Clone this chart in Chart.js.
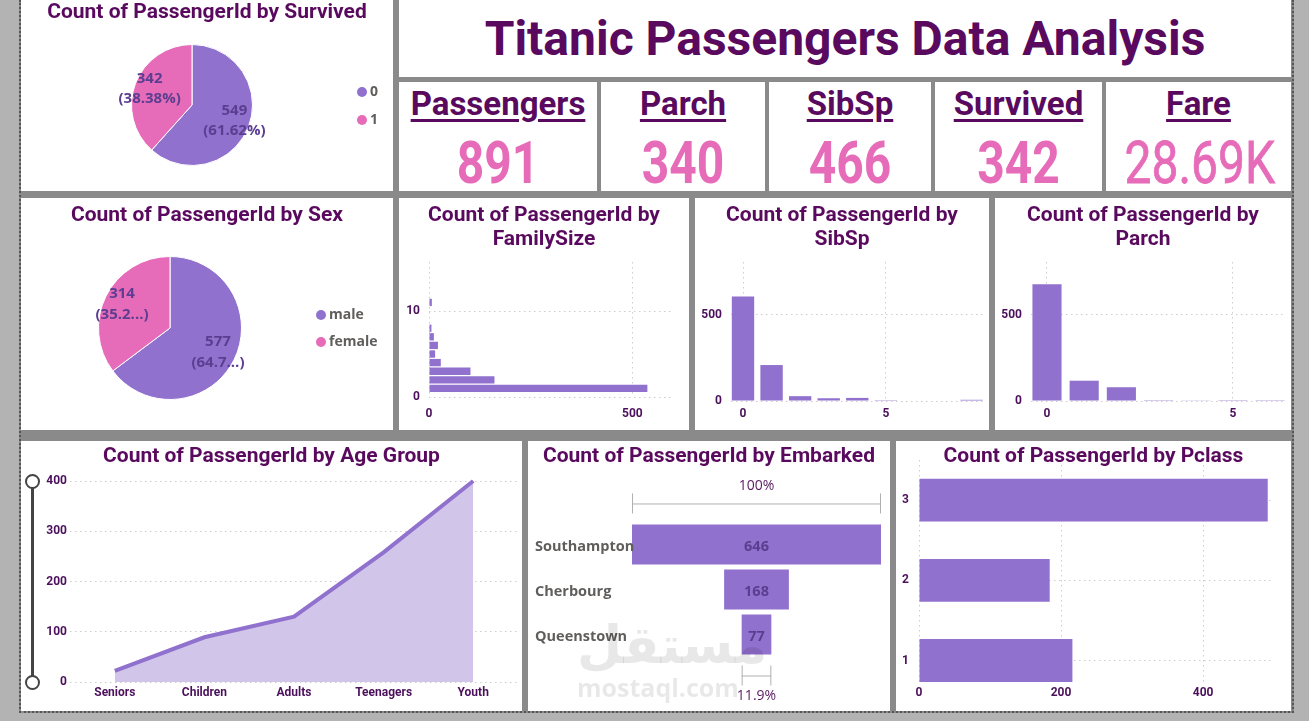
<!DOCTYPE html>
<html>
<head>
<meta charset="utf-8">
<title>Titanic Passengers Data Analysis</title>
<script src="https://cdn.jsdelivr.net/npm/chart.js@4.4.1/dist/chart.umd.min.js"></script>
<style>
  * { box-sizing: border-box; }
  body { margin: 0; width: 1309px; height: 721px; background: #b3b3b3; position: relative; overflow: hidden; font-family: Roboto, sans-serif; }
  #board { position: absolute; left: 19px; top: 0; width: 1275px; height: 713px; background: #8a8a8a;
           border-left: 2px dotted #555; border-right: 2px dotted #555; border-bottom: 2px dotted #555; }
  .panel { position: absolute; background: #fff; overflow: hidden; }
  .panel canvas { position: absolute; left: 0; top: 0; }
  .pt { position: absolute; left: 0; width: 100%; text-align: center; font-weight: 700; font-size: 21px;
        line-height: 24px; color: #5a0a5e; white-space: nowrap; z-index: 2; }
  #title { font-size: 48px; font-weight: 700; color: #5a0a5e; text-align: center; line-height: 77px; }
  .kl { position: absolute; left: 0; width: 100%; top: 2px; text-align: center; font-size: 33px; font-weight: 700;
        color: #5a0a5e; text-decoration: underline; text-decoration-thickness: 3px; text-underline-offset: 4px; }
  .kv { position: absolute; left: 0; width: 100%; top: 46px; text-align: center; font-size: 60px; font-weight: 700;
        color: #e66cb9; transform: scaleX(.8); line-height: 70px; }
  .kv.light { font-weight: 400; -webkit-text-stroke: 0.8px #e66cb9; }
  .slider { position: absolute; left: 10px; top: 40px; width: 3px; height: 201px; background: #444; }
  .knob { position: absolute; left: 4px; width: 15px; height: 15px; border-radius: 50%; border: 2px solid #444; background: #fff; }
  #wm { position: absolute; left: 577px; top: 612px; width: 156px; text-align: center; color: rgba(0,0,0,.09); z-index: 3; }
  #wm .ar { font-family: "DejaVu Sans"; font-weight: 700; font-size: 52px; line-height: 66px; }
  #wm .en { font-family: "Open Sans"; font-weight: 700; font-size: 25px; line-height: 26px; margin-top: -4px; }
</style>
</head>
<body>
<div id="board"></div>

<div class="panel" style="left:21px;top:0;width:372px;height:191px">
  <div class="pt" style="top:-1px">Count of PassengerId by Survived</div>
  <canvas id="cSurv" width="372" height="191"></canvas>
</div>

<div class="panel" style="left:399px;top:0;width:892px;height:77px"><div id="title">Titanic Passengers Data Analysis</div></div>
<div id="kpis"></div>

<div class="panel" style="left:21px;top:198px;width:372px;height:232px">
  <div class="pt" style="top:4px">Count of PassengerId by Sex</div>
  <canvas id="cSex" width="372" height="232"></canvas>
</div>

<div class="panel" style="left:399px;top:198px;width:290px;height:232px">
  <div class="pt" style="top:4px">Count of PassengerId by<br>FamilySize</div>
  <canvas id="cFam" width="290" height="232"></canvas>
</div>

<div class="panel" style="left:695px;top:198px;width:294px;height:232px">
  <div class="pt" style="top:4px">Count of PassengerId by<br>SibSp</div>
  <canvas id="cSib" width="294" height="232"></canvas>
</div>

<div class="panel" style="left:995px;top:198px;width:296px;height:232px">
  <div class="pt" style="top:4px">Count of PassengerId by<br>Parch</div>
  <canvas id="cPar" width="296" height="232"></canvas>
</div>

<div class="panel" style="left:21px;top:441px;width:501px;height:270px">
  <div class="pt" style="top:2px">Count of PassengerId by Age Group</div>
  <canvas id="cAge" width="501" height="270"></canvas>
  <div class="slider"></div>
  <div class="knob" style="top:33px"></div>
  <div class="knob" style="top:234px"></div>
</div>

<div class="panel" style="left:528px;top:441px;width:362px;height:270px">
  <div class="pt" style="top:2px">Count of PassengerId by Embarked</div>
  <canvas id="cEmb" width="362" height="270"></canvas>
</div>

<div class="panel" style="left:896px;top:441px;width:395px;height:270px">
  <div class="pt" style="top:2px">Count of PassengerId by Pclass</div>
  <canvas id="cPcl" width="395" height="270"></canvas>
</div>

<div id="wm"><div class="ar">مستقل</div><div class="en">mostaql.com</div></div>

<script>
// ---- données ----
const kpiLabels = ['Passengers', 'Parch', 'SibSp', 'Survived', 'Fare'];
const kpiValues = ['891', '340', '466', '342', '28.69K'];

const survivedCats = ['0', '1'];
const survivedCounts = [549, 342];

const sexCats = ['male', 'female'];
const sexCounts = [577, 314];

const familySizes = [1, 2, 3, 4, 5, 6, 7, 8, 11];
const familyCounts = [537, 161, 102, 29, 15, 22, 12, 6, 7];
const familyTicksX = [0, 500];
const familyTicksY = [0, 10];

const sibspVals = [0, 1, 2, 3, 4, 5, 8];
const sibspCounts = [608, 209, 28, 16, 18, 5, 7];
const parchVals = [0, 1, 2, 3, 4, 5, 6];
const parchCounts = [678, 118, 80, 5, 4, 5, 1];
const countTicks = [0, 500];
const valueTicks = [0, 5];

const ageGroups = ['Seniors', 'Children', 'Adults', 'Teenagers', 'Youth'];
const ageCounts = [22, 89, 130, 258, 400];
const ageTicks = [0, 100, 200, 300, 400];

const embarkPorts = ['Southampton', 'Cherbourg', 'Queenstown'];
const embarkCounts = [646, 168, 77];

const pclassVals = [3, 2, 1];
const pclassCounts = [491, 184, 216];
const pclassTicksX = [0, 200, 400];
const pclassTicksY = [1, 2, 3];

// ---- styles ----
const PURPLE = '#9171ce';
const PINK = '#e66cb9';
const TICK = '#4b0f5c';
const LABEL = '#5b3e90';

Chart.defaults.font.family = 'Roboto';
Chart.defaults.animation = false;
Chart.defaults.responsive = false;
Chart.defaults.plugins.legend.display = false;
Chart.defaults.plugins.tooltip.enabled = false;

// cartes KPI
const kpiBoxes = [[399, 198], [601, 164], [769, 162], [935, 167], [1106, 185]];
document.getElementById('kpis').innerHTML = kpiLabels.map((l, i) => `
  <div class="panel" style="left:${kpiBoxes[i][0]}px;top:82px;width:${kpiBoxes[i][1]}px;height:109px">
    <div class="kl">${l}</div>
    <div class="kv${i === 4 ? ' light' : ''}">${kpiValues[i]}</div>
  </div>`).join('');

// axe linéaire avec ticks imposés et taille fixe
function axis(min, max, ticks, fit, pad, showGrid) {
  return {
    type: 'linear', min, max, offset: false,
    grid: { display: showGrid !== false, color: '#cdcdcd', drawTicks: false, offset: false },
    border: { display: false, dash: [1.5, 3.5] },
    ticks: { color: TICK, font: { size: 12, weight: 'bold' }, padding: pad, maxRotation: 0, autoSkip: false },
    afterBuildTicks: s => { s.ticks = ticks.map(v => ({ value: v })); },
    afterFit: fit
  };
}

// étiquettes + légende des camemberts
const pieText = {
  id: 'pieText',
  afterDatasetsDraw(chart, args, o) {
    const ctx = chart.ctx;
    const ds = chart.data.datasets[0];
    const total = ds.data.reduce((a, b) => a + b, 0);
    ctx.save();
    ctx.textAlign = 'center';
    ctx.textBaseline = 'middle';
    ctx.font = 'bold 15px "Open Sans"';
    ctx.fillStyle = LABEL;
    chart.getDatasetMeta(0).data.forEach((arc, i) => {
      const mid = (arc.startAngle + arc.endAngle) / 2;
      const r = arc.outerRadius * 0.75;
      const x = arc.x + Math.cos(mid) * r;
      const y = arc.y + Math.sin(mid) * r;
      let pct = (ds.data[i] / total * 100).toFixed(2);
      pct = o.cut ? pct.slice(0, o.cut) + '...' : pct + '%';
      ctx.fillText(ds.data[i], x, y - o.gap / 2);
      ctx.fillText('(' + pct + ')', x, y + o.gap / 2);
    });
    ctx.textAlign = 'left';
    ctx.font = 'bold 14px "Open Sans"';
    chart.data.labels.forEach((lab, i) => {
      const y = o.legendY + i * o.legendGap;
      ctx.fillStyle = ds.backgroundColor[i];
      ctx.beginPath(); ctx.arc(o.legendX, y, 5, 0, Math.PI * 2); ctx.fill();
      ctx.fillStyle = '#605e5c';
      ctx.fillText(lab, o.legendX + 8, y);
    });
    ctx.restore();
  }
};

function pie(id, labels, data, pad, opts) {
  new Chart(document.getElementById(id), {
    type: 'pie',
    data: { labels, datasets: [{ data, backgroundColor: [PURPLE, PINK], borderColor: '#fff', borderWidth: 1 }] },
    options: { layout: { padding: pad }, plugins: { pieText: opts } },
    plugins: [pieText]
  });
}
pie('cSurv', survivedCats, survivedCounts, { left: 110, right: 140, top: 44, bottom: 25 },
    { gap: 20, legendX: 341, legendY: 92, legendGap: 28 });
pie('cSex', sexCats, sexCounts, { left: 77, right: 151, top: 58, bottom: 30 },
    { gap: 21, cut: 4, legendX: 300, legendY: 117, legendGap: 27 });

// FamilySize (barres horizontales sur axe continu)
new Chart(document.getElementById('cFam'), {
  type: 'bar',
  data: { datasets: [{ data: familySizes.map((s, i) => ({ x: familyCounts[i], y: s })), backgroundColor: PURPLE,
                       barPercentage: 0.95, categoryPercentage: 0.9 }] },
  options: {
    indexAxis: 'y',
    layout: { padding: { top: 64, right: 16 } },
    scales: {
      x: axis(0, 600, familyTicksX, s => { s.height = 33; }, 10),
      y: axis(0, 15.7, familyTicksY, s => { s.width = 30; }, 9)
    }
  }
});

// SibSp / Parch
function countBars(id, vals, counts, xmin, xmax) {
  new Chart(document.getElementById(id), {
    type: 'bar',
    data: { datasets: [{ data: vals.map((v, i) => ({ x: v, y: counts[i] })), backgroundColor: PURPLE,
                         barPercentage: 0.87, categoryPercentage: 0.9 }] },
    options: {
      layout: { padding: { top: 64, right: 6 } },
      scales: {
        x: axis(xmin, xmax, valueTicks, s => { s.height = 29; }, 6),
        y: axis(0, 808, countTicks, s => { s.width = 36; }, 9)
      }
    }
  });
}
countBars('cSib', sibspVals, sibspCounts, -0.42, 8.4);
countBars('cPar', parchVals, parchCounts, -0.43, 6.4);

// Age Group
new Chart(document.getElementById('cAge'), {
  type: 'line',
  data: { labels: ageGroups, datasets: [{ data: ageCounts, borderColor: PURPLE, borderWidth: 4, pointRadius: 0,
                                          fill: 'origin', backgroundColor: '#d1c6ea', tension: 0 }] },
  options: {
    layout: { padding: { top: 35, right: 4 } },
    scales: {
      x: { offset: true, grid: { display: false, drawTicks: false }, border: { display: false },
           ticks: { color: TICK, font: { size: 12, weight: 'bold' }, padding: 4, maxRotation: 0 },
           afterFit: s => { s.height = 29; } },
      y: axis(0, 410, ageTicks, s => { s.width = 49; }, 3)
    }
  }
});

// Embarked (entonnoir)
const funnelText = {
  id: 'funnelText',
  afterDatasetsDraw(chart) {
    const { ctx, scales: { x } } = chart;
    const bars = chart.getDatasetMeta(0).data;
    ctx.save();
    ctx.textBaseline = 'middle';
    bars.forEach((b, i) => {
      ctx.font = 'bold 14.5px "Open Sans"';
      ctx.textAlign = 'left';
      ctx.fillStyle = '#605e5c';
      ctx.fillText(embarkPorts[i], 7, b.y + 2);
      ctx.textAlign = 'center';
      ctx.fillStyle = LABEL;
      ctx.fillText(embarkCounts[i], x.getPixelForValue(0), b.y + 2);
    });
    const n = embarkCounts.length;
    const bracket = (v, yLine, yText, txt) => {
      const x1 = x.getPixelForValue(-v / 2), x2 = x.getPixelForValue(v / 2);
      ctx.strokeStyle = '#b0b0b0';
      ctx.lineWidth = 1;
      ctx.beginPath();
      ctx.moveTo(x1 + 0.5, yLine - 10); ctx.lineTo(x1 + 0.5, yLine + 10);
      ctx.moveTo(x2 - 0.5, yLine - 10); ctx.lineTo(x2 - 0.5, yLine + 10);
      ctx.moveTo(x1, yLine + 0.5); ctx.lineTo(x2, yLine + 0.5);
      ctx.stroke();
      ctx.font = '14px "Open Sans"';
      ctx.fillStyle = '#5a1a60';
      ctx.fillText(txt, (x1 + x2) / 2, yText);
    };
    const top = bars[0].y - bars[0].height / 2;
    const bot = bars[n - 1].y + bars[n - 1].height / 2;
    bracket(embarkCounts[0], top - 21, top - 38, '100%');
    bracket(embarkCounts[n - 1], bot + 21, bot + 41, (embarkCounts[n - 1] / embarkCounts[0] * 100).toFixed(1) + '%');
    ctx.restore();
  }
};
new Chart(document.getElementById('cEmb'), {
  type: 'bar',
  data: { labels: embarkPorts, datasets: [{ data: embarkCounts.map(v => [-v / 2, v / 2]), backgroundColor: PURPLE,
                                            categoryPercentage: 1, barPercentage: 0.89 }] },
  options: {
    indexAxis: 'y',
    layout: { padding: { left: 104, right: 9, top: 81, bottom: 54 } },
    scales: {
      x: { display: false, min: -embarkCounts[0] / 2, max: embarkCounts[0] / 2 },
      y: { display: false }
    }
  },
  plugins: [funnelText]
});

// Pclass
new Chart(document.getElementById('cPcl'), {
  type: 'bar',
  data: { datasets: [{ data: pclassVals.map((c, i) => ({ x: pclassCounts[i], y: c })), backgroundColor: PURPLE,
                       barPercentage: 0.89, categoryPercentage: 0.6 }] },
  options: {
    indexAxis: 'y',
    layout: { padding: { top: 19, right: 19 } },
    scales: {
      x: axis(0, 497, pclassTicksX, s => { s.height = 28; }, 3),
      y: axis(0.72, 3.5, pclassTicksY, s => { s.width = 23; }, 10)
    }
  }
});
</script>
</body>
</html>
